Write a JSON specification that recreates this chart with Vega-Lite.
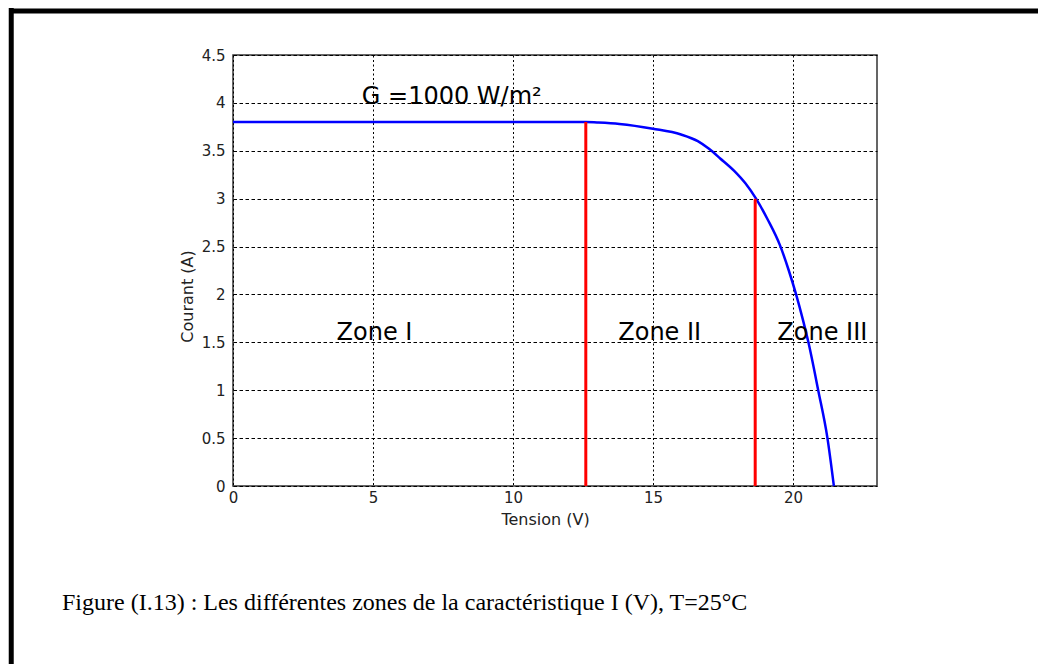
{
  "$schema": "https://vega.github.io/schema/vega-lite/v6.json",
  "width": 644,
  "height": 431,
  "autosize": {"type": "none"},
  "padding": {"left": 233, "top": 55, "right": 161, "bottom": 178},
  "background": "white",
  "config": {
    "view": {"stroke": "#333333", "strokeWidth": 1.5},
    "font": "DejaVu Sans"
  },
  "datasets": {
    "curve": [
      {"V": 0, "I": 3.8},
      {"V": 12.6, "I": 3.8},
      {"V": 13.0, "I": 3.795},
      {"V": 13.8, "I": 3.78},
      {"V": 15.0, "I": 3.73},
      {"V": 16.0, "I": 3.67},
      {"V": 16.6, "I": 3.6},
      {"V": 17.0, "I": 3.52},
      {"V": 17.4, "I": 3.42},
      {"V": 17.9, "I": 3.29},
      {"V": 18.3, "I": 3.16},
      {"V": 18.68, "I": 3.0},
      {"V": 19.1, "I": 2.78},
      {"V": 19.54, "I": 2.51},
      {"V": 19.85, "I": 2.25},
      {"V": 20.11, "I": 2.0},
      {"V": 20.35, "I": 1.74},
      {"V": 20.55, "I": 1.5},
      {"V": 20.9, "I": 1.0},
      {"V": 21.23, "I": 0.5},
      {"V": 21.46, "I": 0}
    ],
    "limits": [
      {"V": 12.6, "I0": 0, "I1": 3.8},
      {"V": 18.65, "I0": 0, "I1": 3.0}
    ],
    "labels": [
      {"V": 4.6, "I": 4.06, "label": "G =1000 W/m²"},
      {"V": 3.7, "I": 1.6, "label": "Zone I"},
      {"V": 13.76, "I": 1.6, "label": "Zone II"},
      {"V": 19.44, "I": 1.6, "label": "Zone III"}
    ],
    "caption": [{"text": "Figure (I.13) : Les différentes zones de la caractéristique I (V), T=25°C"}]
  },
  "encoding": {
    "x": {
      "type": "quantitative",
      "scale": {"domain": [0, 23], "nice": false, "zero": false},
      "axis": {
        "title": "Tension (V)",
        "values": [0, 5, 10, 15, 20],
        "format": "~g",
        "domain": false,
        "ticks": false,
        "grid": true,
        "gridColor": "#000000",
        "gridOpacity": 1,
        "gridWidth": 1,
        "gridDash": [2, 2.5],
        "labelFont": "DejaVu Sans",
        "labelFontSize": 15,
        "labelColor": "#222222",
        "labelPadding": 4,
        "labelFlush": false,
        "labelOverlap": false,
        "titleFont": "DejaVu Sans",
        "titleFontSize": 16,
        "titleFontWeight": "normal",
        "titleColor": "#222222",
        "titlePadding": 6,
        "titleX": 312
      }
    },
    "y": {
      "type": "quantitative",
      "scale": {"domain": [0, 4.5], "nice": false, "zero": false},
      "axis": {
        "title": "Courant (A)",
        "values": [0, 0.5, 1, 1.5, 2, 2.5, 3, 3.5, 4, 4.5],
        "format": "~g",
        "domain": false,
        "ticks": false,
        "grid": true,
        "gridColor": "#000000",
        "gridOpacity": 1,
        "gridWidth": 1,
        "gridDash": [3.5, 2.5],
        "labelFont": "DejaVu Sans",
        "labelFontSize": 15,
        "labelColor": "#222222",
        "labelPadding": 8,
        "labelFlush": false,
        "labelOverlap": false,
        "titleFont": "DejaVu Sans",
        "titleFontSize": 16,
        "titleFontWeight": "normal",
        "titleColor": "#222222",
        "titlePadding": 6,
        "titleY": 241
      }
    }
  },
  "layer": [
    {
      "data": {"name": "caption"},
      "mark": {"type": "rule", "color": "#000000", "strokeWidth": 5, "clip": false},
      "encoding": {
        "x": {"datum": -7.92, "type": "quantitative"},
        "y": {"datum": -1.9, "type": "quantitative"},
        "y2": {"datum": 4.99}
      }
    },
    {
      "data": {"name": "caption"},
      "mark": {"type": "rule", "color": "#000000", "strokeWidth": 5, "clip": false},
      "encoding": {
        "y": {"datum": 4.96, "type": "quantitative"},
        "x": {"datum": -8.0, "type": "quantitative"},
        "x2": {"datum": 28.8}
      }
    },
    {
      "data": {"name": "caption"},
      "mark": {"type": "text", "align": "left", "baseline": "middle", "font": "Liberation Serif", "fontSize": 24, "color": "#000000", "clip": false},
      "encoding": {
        "x": {"datum": -6.107, "type": "quantitative"},
        "y": {"datum": -1.221, "type": "quantitative"},
        "text": {"field": "text"}
      }
    },
    {
      "data": {"name": "curve"},
      "mark": {"type": "line", "color": "#0000ff", "strokeWidth": 2.5, "interpolate": "monotone"},
      "encoding": {
        "x": {"field": "V", "type": "quantitative"},
        "y": {"field": "I", "type": "quantitative"}
      }
    },
    {
      "data": {"name": "limits"},
      "mark": {"type": "rule", "color": "#ff0000", "strokeWidth": 3},
      "encoding": {
        "x": {"field": "V", "type": "quantitative"},
        "y": {"field": "I0", "type": "quantitative"},
        "y2": {"field": "I1"}
      }
    },
    {
      "data": {"name": "labels"},
      "mark": {"type": "text", "align": "left", "baseline": "middle", "font": "DejaVu Sans", "fontSize": 24, "color": "#000000"},
      "encoding": {
        "x": {"field": "V", "type": "quantitative"},
        "y": {"field": "I", "type": "quantitative"},
        "text": {"field": "label"}
      }
    }
  ]
}
